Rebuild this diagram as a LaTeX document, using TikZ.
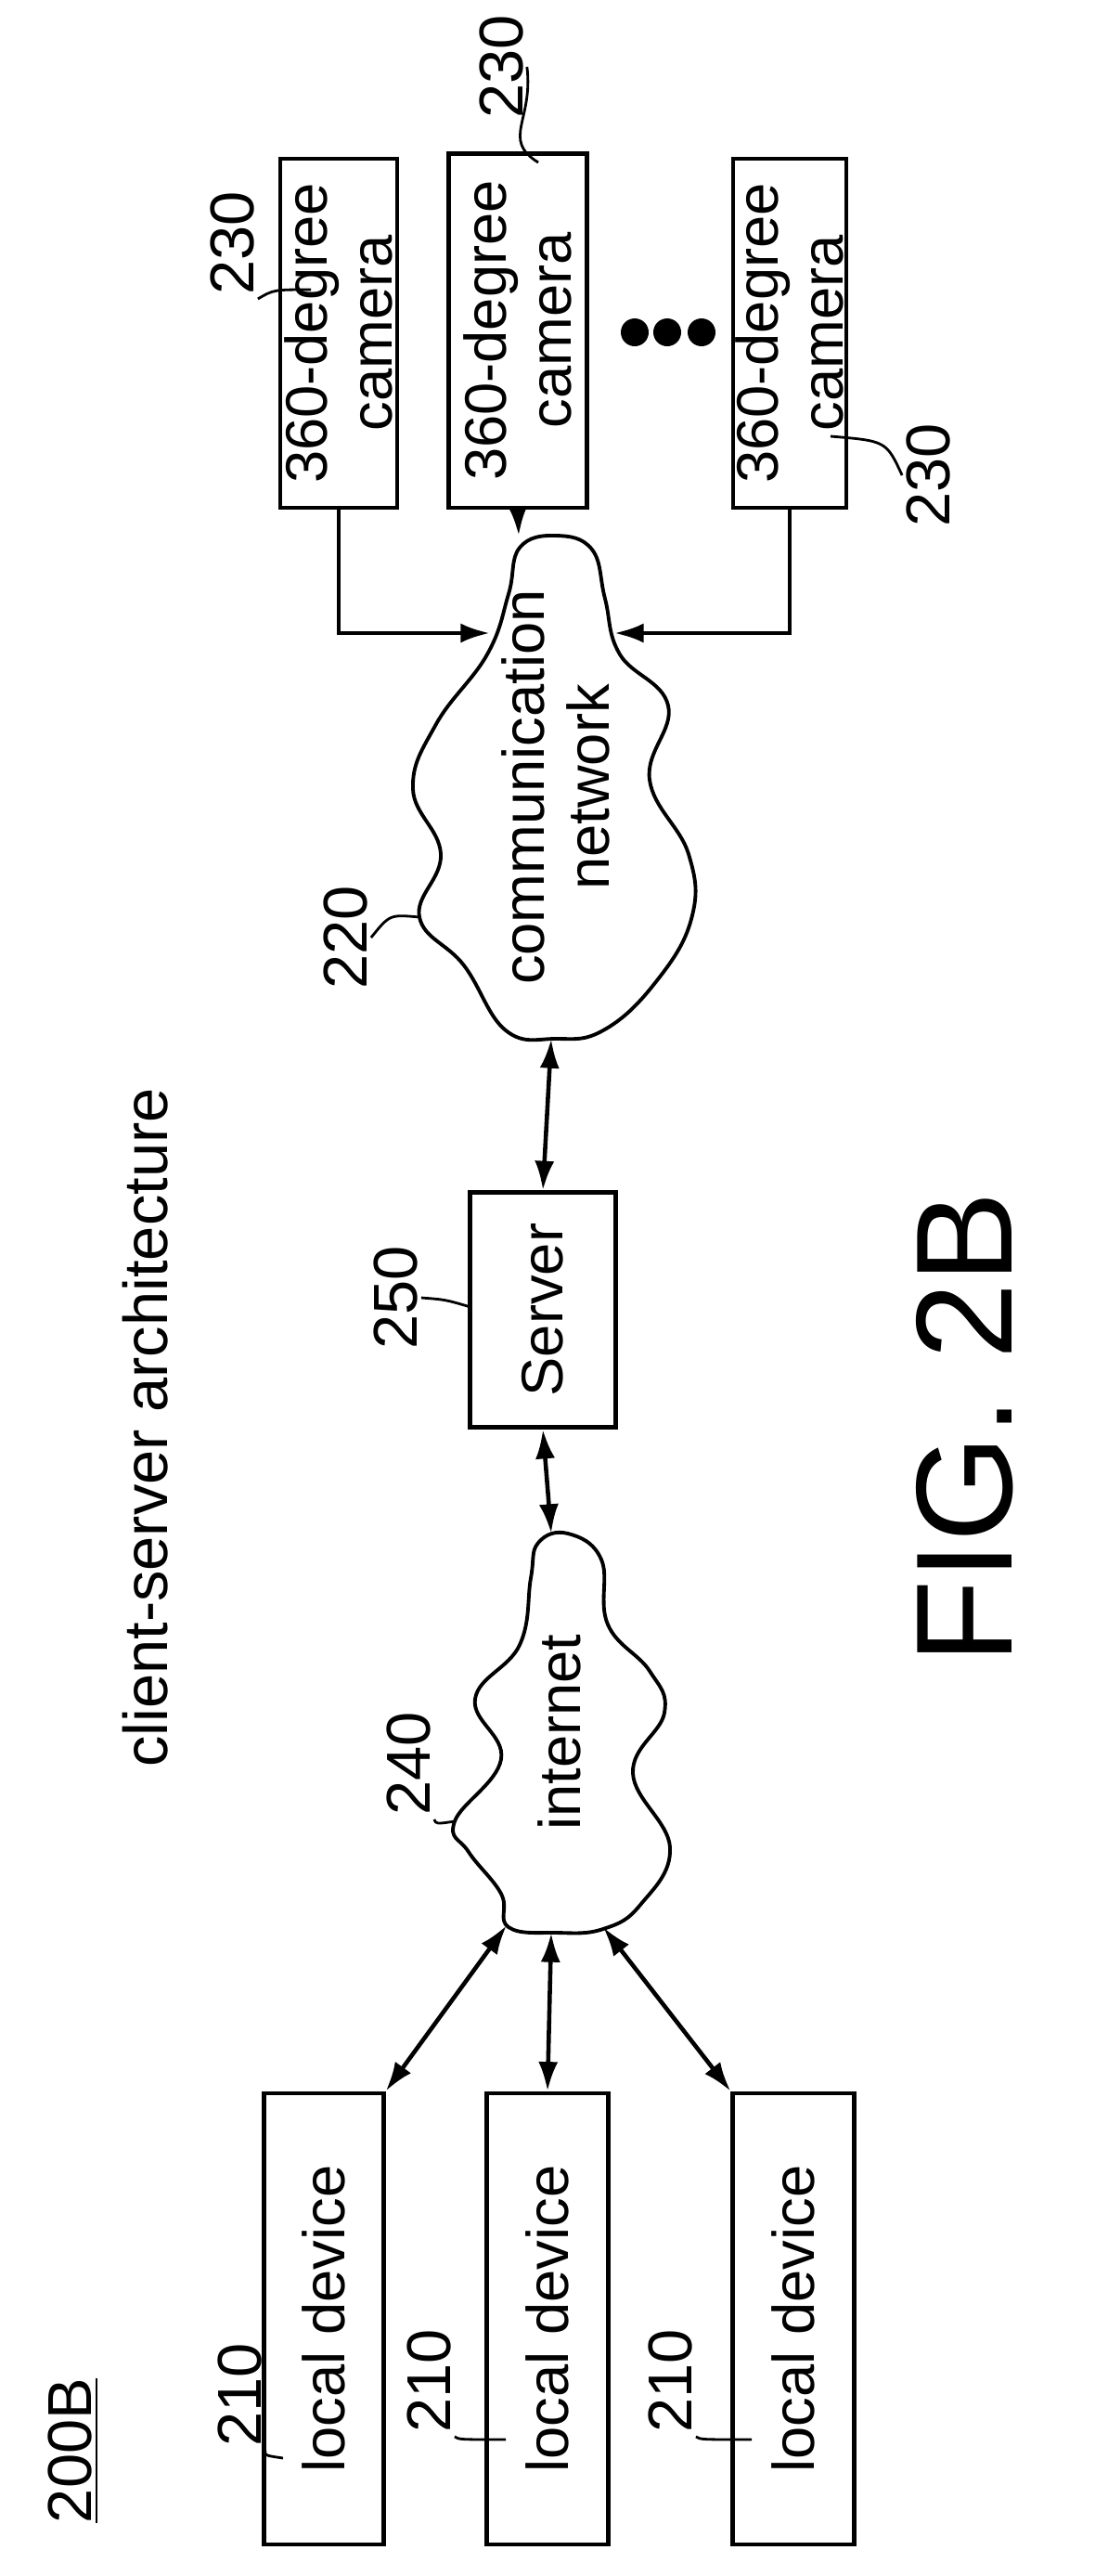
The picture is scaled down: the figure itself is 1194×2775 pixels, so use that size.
\documentclass[tikz,border=0pt]{standalone}
\usepackage{fontspec}
\setmainfont{Liberation Sans}
\usetikzlibrary{arrows.meta}
\tikzset{
  box/.style={draw, line width=1.2pt, inner sep=0pt},
  txt/.style={rotate=90, font=\fontsize{18}{20}\selectfont, align=center},
  num/.style={rotate=90, font=\fontsize{19}{22}\selectfont, inner sep=1pt},
  blob/.style={draw, line width=1.1pt},
  arr/.style={line width=1.3pt, -{Latex[length=9pt,width=6pt]}},
  darr/.style={line width=1.3pt, {Latex[length=9pt,width=6pt]}-{Latex[length=9pt,width=6pt]}},
  lead/.style={line width=0.8pt}
}
\begin{document}
\begin{tikzpicture}[x=0.01cm,y=-0.01cm]
  \useasboundingbox (0,0) rectangle (1194,2775);

  % cameras
  \node[box, minimum width=1.26cm, minimum height=3.76cm] (cam1) at (365,359) {};
  \node[box, minimum width=1.49cm, minimum height=3.81cm] (cam2) at (558,356) {};
  \node[box, minimum width=1.22cm, minimum height=3.76cm] (cam3) at (851,359) {};
  \node[txt] at (cam1) {360-degree\\camera};
  \node[txt] at (cam2) {360-degree\\camera};
  \node[txt] at (cam3) {360-degree\\camera};
  \foreach \x in {684,719,756} \fill (\x,358) circle (15);

  % communication network
  \coordinate (cn) at (599,848);
  \draw[blob] plot[smooth cycle, tension=0.7] coordinates {
    (560,590) (599,577) (638,592) (652,645) (668,705) (720,760) (700,840)
    (742,920) (745,990) (705,1060) (650,1110) (599,1119) (545,1110)
    (500,1040) (452,988) (475,920) (445,850) (470,780) (525,705) (548,640)};
  \node[txt] at (cn) {communication\\network};
  \coordinate (cnT) at (559,577);
  \coordinate (cnL) at (528,682);
  \coordinate (cnR) at (662,682);
  \coordinate (cnB) at (594,1119);

  % server
  \node[box, minimum width=1.57cm, minimum height=2.53cm] (srv) at (585,1411) {};
  \node[txt] at (srv) {Server};

  % internet
  \coordinate (in) at (603,1866);
  \draw[blob] plot[smooth cycle, tension=0.7] coordinates {
    (580,1662) (612,1652) (648,1680) (655,1750) (700,1800) (716,1845)
    (682,1910) (722,1990) (690,2052) (650,2078) (600,2082) (548,2076)
    (540,2040) (505,1995) (490,1962) (540,1895) (512,1830) (560,1772) (572,1700)};
  \node[txt] at (in) {internet};
  \coordinate (inT) at (594,1652);
  \coordinate (inBL) at (546,2074);
  \coordinate (inB) at (594,2082);
  \coordinate (inBR) at (650,2076);

  % local devices
  \node[box, minimum width=1.29cm, minimum height=4.86cm] (ld1) at (349,2498) {};
  \node[box, minimum width=1.31cm, minimum height=4.86cm] (ld2) at (590,2498) {};
  \node[box, minimum width=1.31cm, minimum height=4.86cm] (ld3) at (855,2498) {};
  \node[txt] at (ld1) {local device};
  \node[txt] at (ld2) {local device};
  \node[txt] at (ld3) {local device};

  % connectors
  \draw[arr] (cam1.south) |- (cnL);
  \draw[arr] (cam2.south) -- (cnT);
  \draw[arr] (cam3.south) |- (cnR);
  \draw[darr] (srv.north) -- (cnB);
  \draw[darr] (inT) -- (srv.south);
  \draw[darr] (inBL) -- (ld1.north east);
  \draw[darr] (inB) -- (ld2.north);
  \draw[darr] (inBR) -- (ld3.north west);

  % reference numbers
  \node[num] (n230a) at (250,262) {230};
  \draw[lead] (n230a.south west) .. controls (295,312) .. (335,312);
  \node[num] (n230b) at (540,72) {230};
  \draw[lead] (n230b.south) .. controls (575,130) and (540,150) .. (580,175);
  \node[num] (n230c) at (1000,512) {230};
  \draw[lead] (n230c.north) .. controls (955,475) .. (895,470);
  \node[num] (n220) at (372,1010) {220};
  \draw[lead] (n220.south) .. controls (420,985) .. (452,988);
  \node[num] (n250) at (426,1398) {250};
  \draw[lead] (n250.south) .. controls (480,1400) .. (507,1408);
  \node[num] (n240) at (440,1900) {240};
  \draw[lead] (n240.south west) .. controls (470,1965) .. (490,1962);
  \node[num] (n210a) at (258,2580) {210};
  \draw[lead] (n210a.south west) .. controls (285,2645) .. (305,2648);
  \node[num] (n210b) at (462,2565) {210};
  \draw[lead] (n210b.south west) .. controls (495,2628) .. (545,2628);
  \node[num] (n210c) at (722,2565) {210};
  \draw[lead] (n210c.south west) .. controls (755,2628) .. (810,2628);

  % titles
  \node[num] (fig) at (79,2640) {\underline{200B}};
  \node[num] (arch) at (157,1538) {client-server architecture};
  \node[rotate=90, font=\fontsize{42}{46}\selectfont] (caption) at (1040,1538) {FIG. 2B};
\end{tikzpicture}
\end{document}
